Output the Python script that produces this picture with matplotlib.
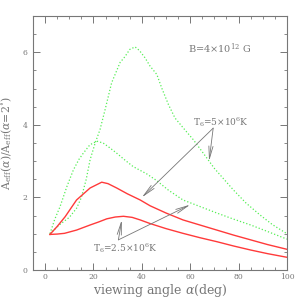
import matplotlib
matplotlib.use("Agg")
import matplotlib.pyplot as plt
from matplotlib.ticker import MultipleLocator

plt.rcParams['font.family'] = ['DejaVu Serif']
plt.rcParams['mathtext.fontset'] = 'dejavuserif'

# T6 = 5e6 K (tall dotted green, upper red)
g_hi_x = [2, 6, 10, 13, 15, 17, 18.6, 20.7, 22.7, 24.8, 27.5, 31, 33, 35, 37.2, 39, 41.3, 43.4, 46.2,
          48.2, 51, 53.7, 57.2, 61.3, 65.4, 70, 77.8, 83, 88.8, 94, 100]
g_hi_y = [1.0, 1.25, 1.45, 1.7, 2.0, 2.5, 3.04, 3.5, 3.87, 4.42, 5.16, 5.72, 5.88, 6.08, 6.15, 6.05, 5.85, 5.62, 5.39,
          5.02, 4.56, 4.19, 3.91, 3.59, 3.22, 2.8, 2.21, 1.85, 1.52, 1.25, 1.0]
r_hi_x = [2, 5, 8.3, 13, 18.6, 23.4, 26, 29.6, 34, 39.3, 43.4, 50, 57, 64, 71, 78, 85, 92, 100]
r_hi_y = [0.98, 1.2, 1.47, 1.93, 2.26, 2.42, 2.38, 2.26, 2.1, 1.93, 1.77, 1.57, 1.38, 1.24, 1.1, 0.96, 0.83, 0.7, 0.57]

# T6 = 2.5e6 K (medium dotted green, lower red)
g_lo_x = [2, 4, 6.2, 9, 11.7, 14, 15.8, 18.5, 21.4, 24, 26.5, 29.6, 33, 36.4, 42, 46, 51, 57,
          64, 71, 78, 85, 92, 100]
g_lo_y = [1.0, 1.4, 1.75, 2.3, 2.76, 3.05, 3.22, 3.45, 3.55, 3.5, 3.38, 3.22, 3.03, 2.85, 2.65, 2.47, 2.2, 1.93,
          1.75, 1.57, 1.4, 1.24, 1.06, 0.85]
r_lo_x = [2, 5, 8, 13, 18.6, 22, 25.5, 29, 32.4, 36, 39.3, 43.4, 50, 57, 64, 71, 78, 85, 92, 100]
r_lo_y = [0.98, 0.99, 1.01, 1.1, 1.24, 1.32, 1.41, 1.46, 1.48, 1.45, 1.38, 1.28, 1.14, 1.01, 0.89, 0.78, 0.66, 0.55, 0.45, 0.35]

grey = '#777777'
green = '#55ee55'
red = '#ff3a3a'

fig = plt.figure(figsize=(3.03, 3.03), dpi=100)
ax = fig.add_axes([0.109, 0.109, 0.838, 0.838])

ax.plot(g_hi_x, g_hi_y, color=green, ls=':', lw=0.9)
ax.plot(g_lo_x, g_lo_y, color=green, ls=':', lw=0.9)
ax.plot(r_hi_x, r_hi_y, color=red, lw=1.0)
ax.plot(r_lo_x, r_lo_y, color=red, lw=1.0)

ax.set_xlim(-5, 100)
ax.set_ylim(0, 7)
ax.xaxis.set_major_locator(MultipleLocator(20))
ax.xaxis.set_minor_locator(MultipleLocator(5))
ax.yaxis.set_major_locator(MultipleLocator(2))
ax.yaxis.set_minor_locator(MultipleLocator(0.5))
ax.tick_params(which='both', direction='in', top=True, right=True, colors=grey,
               labelsize=5.5)
ax.tick_params(axis='x', pad=2)
ax.tick_params(axis='y', pad=4)
ax.tick_params(which='major', length=5, width=0.7)
ax.tick_params(which='minor', length=2.5, width=0.6)
for s in ax.spines.values():
    s.set_color(grey)
    s.set_linewidth(0.8)

ax.set_xlabel(r'viewing angle $\alpha$(deg)', fontsize=9, color=grey, labelpad=1)
ax.set_ylabel(r'A$_{\rm eff}$($\alpha$)/A$_{\rm eff}$($\alpha$=2$^{\circ}$)', fontsize=7.8,
              color=grey, labelpad=6)

ax.text(59, 6.1, r'B=4$\times$10$^{12}$ G', fontsize=7, color=grey, va='center')

ap = dict(arrowstyle='->,head_length=0.9,head_width=0.15', color=grey, lw=0.6, shrinkA=0, shrinkB=0)
ax.text(61, 4.07, r'T$_6$=5$\times$10$^6$K', fontsize=6.5, color=grey, va='center')
ax.annotate('', xy=(40, 2.0), xytext=(69.5, 3.91), arrowprops=ap)
ax.annotate('', xy=(67.8, 3.0), xytext=(69.5, 3.91), arrowprops=ap)

ax.text(20, 0.6, r'T$_6$=2.5$\times$10$^6$K', fontsize=6.5, color=grey, va='center')
ax.annotate('', xy=(31.7, 1.38), xytext=(30.3, 0.83), arrowprops=ap)
ax.annotate('', xy=(60, 1.8), xytext=(30.3, 0.83), arrowprops=ap)

fig.savefig('out.png', dpi=100)
